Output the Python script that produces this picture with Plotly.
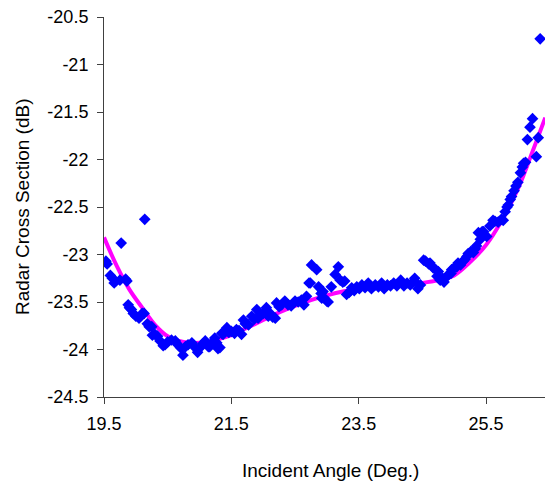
import plotly.graph_objects as go

# Measured radar cross section vs incident angle
angle_deg = [
    19.53, 19.55, 19.60, 19.63, 19.66, 19.68, 19.77, 19.75, 19.84, 19.86,
    19.88, 19.90, 19.93, 19.96, 20.00, 20.05, 20.07, 20.10, 20.13, 20.14,
    20.18, 20.21, 20.25, 20.26, 20.30, 20.34, 20.38, 20.43, 20.46, 20.50,
    20.56, 20.62, 20.66, 20.70, 20.74, 20.78, 20.82, 20.88, 20.93, 20.97,
    21.01, 21.05, 21.09, 21.14, 21.16, 21.20, 21.24, 21.27, 21.29, 21.32,
    21.35, 21.37, 21.43, 21.46, 21.50, 21.55, 21.58, 21.62, 21.66, 21.69,
    21.72, 21.77, 21.82, 21.86, 21.90, 21.92, 21.96, 22.00, 22.05, 22.08,
    22.11, 22.15, 22.19, 22.21, 22.25, 22.29, 22.34, 22.39, 22.44, 22.50,
    22.55, 22.60, 22.64, 22.68, 22.72, 22.74, 22.76, 22.84, 22.87, 22.91,
    22.94, 22.92, 22.96, 23.00, 23.02, 23.07, 23.13, 23.18, 23.21, 23.25,
    23.28, 23.31, 23.35, 23.39, 23.43, 23.47, 23.51, 23.55, 23.60, 23.65,
    23.70, 23.76, 23.81, 23.86, 23.90, 23.95, 24.00, 24.05, 24.10, 24.16,
    24.21, 24.26, 24.31, 24.37, 24.38, 24.43, 24.47, 24.52, 24.55, 24.60,
    24.62, 24.67, 24.71, 24.73, 24.75, 24.78, 24.82, 24.84, 24.86, 24.91,
    24.95, 24.96, 25.00, 25.04, 25.06, 25.10, 25.14, 25.17, 25.20, 25.22,
    25.26, 25.30, 25.33, 25.35, 25.38, 25.41, 25.44, 25.46, 25.51, 25.56,
    25.61, 25.64, 25.69, 25.74, 25.77, 25.80, 25.83, 25.85, 25.88, 25.90,
    25.94, 25.97, 26.00, 26.04, 26.07, 26.09, 26.12, 26.15, 26.19, 26.23,
    26.29, 26.32, 26.35,
]
rcs_db = [
    -23.07, -23.10, -23.22, -23.25, -23.30, -23.28, -22.88, -23.27, -23.26, -23.28,
    -23.53, -23.56, -23.58, -23.62, -23.65, -23.67, -23.65, -23.62, -23.62, -22.63,
    -23.73, -23.76, -23.76, -23.85, -23.84, -23.86, -23.91, -23.96, -23.95, -23.92,
    -23.90, -23.91, -23.95, -23.98, -24.06, -23.97, -23.95, -23.93, -23.98, -24.03,
    -23.98, -23.94, -23.91, -23.97, -23.97, -23.93, -23.88, -23.93, -23.99, -23.98,
    -23.83, -23.84, -23.77, -23.82, -23.81, -23.83, -23.79, -23.80, -23.84, -23.69,
    -23.73, -23.74, -23.65, -23.68, -23.58, -23.67, -23.63, -23.62, -23.56, -23.65,
    -23.62, -23.66, -23.67, -23.51, -23.55, -23.53, -23.49, -23.53, -23.54, -23.49,
    -23.50, -23.48, -23.53, -23.44, -23.30, -23.30, -23.11, -23.16, -23.34, -23.41,
    -23.39, -23.46, -23.46, -23.49, -23.50, -23.34, -23.21, -23.13, -23.27, -23.29,
    -23.28, -23.42, -23.40, -23.35, -23.38, -23.34, -23.36, -23.32, -23.35, -23.30,
    -23.36, -23.32, -23.34, -23.30, -23.36, -23.32, -23.33, -23.30, -23.33, -23.27,
    -23.33, -23.30, -23.32, -23.28, -23.25, -23.36, -23.32, -23.06, -23.07, -23.10,
    -23.09, -23.14, -23.16, -23.23, -23.18, -23.27, -23.25, -23.29, -23.25, -23.21,
    -23.20, -23.16, -23.14, -23.13, -23.09, -23.11, -23.07, -23.05, -23.02, -22.99,
    -22.97, -22.98, -22.94, -22.91, -22.77, -22.84, -22.76, -22.76, -22.81, -22.70,
    -22.64, -22.65, -22.66, -22.63, -22.64, -22.55, -22.50, -22.48, -22.42, -22.39,
    -22.33, -22.28, -22.24, -22.14, -22.08, -22.04, -22.03, -21.79, -21.66, -21.57,
    -21.97, -21.77, -20.73,
]

# Smooth trend through the measurements
trend_angle = [
    19.5, 19.7, 19.9, 20.1, 20.3, 20.5, 20.75, 21.0, 21.25, 21.5,
    21.75, 22.0, 22.25, 22.5, 22.75, 23.0, 23.25, 23.5, 23.75, 24.0,
    24.25, 24.5, 24.75, 25.0, 25.25, 25.5, 25.75, 26.0, 26.2, 26.43,
]
trend_db = [
    -22.82, -23.12, -23.37, -23.56, -23.74, -23.86, -23.92, -23.93, -23.90, -23.85,
    -23.77, -23.69, -23.61, -23.54, -23.48, -23.43, -23.39, -23.36, -23.34, -23.33,
    -23.32, -23.30, -23.27, -23.22, -23.08, -22.90, -22.64, -22.31, -21.97, -21.56,
]

x_ticks = [19.5, 21.5, 23.5, 25.5]
x_tick_text = ["19.5", "21.5", "23.5", "25.5"]
y_ticks = [-20.5, -21, -21.5, -22, -22.5, -23, -23.5, -24, -24.5]
y_tick_text = ["-20.5", "-21", "-21.5", "-22", "-22.5", "-23", "-23.5", "-24", "-24.5"]

FONT = "Liberation Sans, Arial, sans-serif"
AXIS_COLOR = "#404040"

fig = go.Figure()
fig.add_trace(go.Scatter(
    x=trend_angle, y=trend_db, mode="lines",
    line=dict(color="#FF00FF", width=4, shape="spline", smoothing=1.0),
    hoverinfo="skip", showlegend=False,
))
fig.add_trace(go.Scatter(
    x=angle_deg, y=rcs_db, mode="markers",
    marker=dict(symbol="diamond", size=9, color="#0000FF", line=dict(width=0)),
    showlegend=False,
))

fig.update_layout(
    width=545, height=481,
    margin=dict(l=104, r=0, t=17, b=84),
    paper_bgcolor="white", plot_bgcolor="white",
    font=dict(family=FONT, size=18, color="black"),
    showlegend=False,
)
fig.update_xaxes(
    range=[19.5, 26.426], tickvals=x_ticks, ticktext=x_tick_text,
    showgrid=False, zeroline=False, showline=True, linecolor=AXIS_COLOR, linewidth=1,
    ticks="outside", ticklen=6, tickcolor=AXIS_COLOR, tickfont=dict(size=18),
    ticklabelstandoff=4,
)
fig.update_yaxes(
    range=[-24.5, -20.5], tickvals=y_ticks, ticktext=y_tick_text,
    showgrid=False, zeroline=False, showline=True, linecolor=AXIS_COLOR, linewidth=1,
    ticks="outside", ticklen=6, tickcolor=AXIS_COLOR, tickfont=dict(size=18),
    ticklabelstandoff=5,
)

fig.add_annotation(
    text="Incident Angle (Deg.)", xref="paper", yref="paper",
    x=(330 - 104) / 441, y=(397 - 470) / 380, xanchor="center", yanchor="middle",
    showarrow=False, font=dict(family=FONT, size=19, color="black"),
)
fig.add_annotation(
    text="Radar Cross Section (dB)", xref="paper", yref="paper",
    x=(22 - 104) / 441, y=0.5, xanchor="center", yanchor="middle", textangle=-90,
    showarrow=False, font=dict(family=FONT, size=19, color="black"),
)

fig.write_html("out.html")
